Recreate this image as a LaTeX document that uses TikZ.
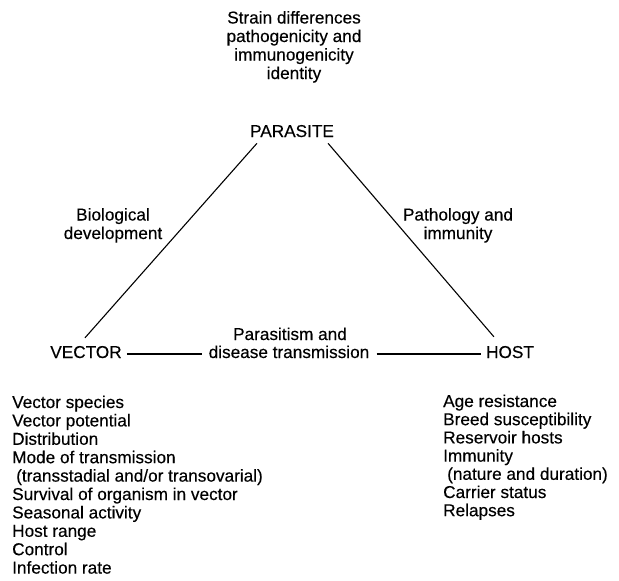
\documentclass[tikz,border=0pt]{standalone}
\usepackage{fontspec}
\setmainfont{Liberation Sans}[FakeBold=0.3]
\usetikzlibrary{positioning}

\begin{document}
\begin{tikzpicture}[x=1pt,y=-1pt,
  every node/.style={font=\fontsize{17.2}{18.5}\selectfont, inner sep=2pt},
  side/.style={line width=1.1pt}]

  \useasboundingbox (0,0) rectangle (619,581);

  % the three corners
  \node[anchor=base] (par) at (292,137) {PARASITE};
  \node[anchor=base] (vec) at (86,358) {VECTOR};
  \node[anchor=base] (host) at (510,358) {HOST};

  % what goes with each corner and side (base = last line)
  \node[anchor=base,align=center] (strain) at (294,79)
    {Strain differences\\pathogenicity and\\immunogenicity\\identity};
  \node[anchor=base,align=center] (bio) at (113,239) {Biological\\development};
  \node[anchor=base,align=center] (path) at (458,239) {Pathology and\\immunity};
  \node[anchor=base] (prst) at (290,340) {Parasitism and};
  \node[anchor=base] (dis) at (289,358) {disease transmission};

  % draw the sides of the triangle
  \draw[side] ([xshift=9pt,yshift=-4pt]par.south west) -- ([xshift=-1pt,yshift=6pt]vec.north);
  \draw[side] ([xshift=-8pt,yshift=-4pt]par.south east) -- ([xshift=10pt,yshift=7pt]host.north west);
  \draw[side] ([xshift=3pt,yshift=4pt]vec.base east) -- ([xshift=-5pt,yshift=4pt]dis.base west);
  \draw[side] ([xshift=5pt,yshift=4pt]dis.base east) -- ([xshift=-3pt,yshift=4pt]host.base west);

  % the lists under vector and host
  \def\vectorList{Vector species, Vector potential, Distribution,%
    Mode of transmission, {\hspace*{4pt}(transstadial and/or transovarial)},%
    Survival of organism in vector, Seasonal activity, Host range,%
    Control, Infection rate}
  \def\hostList{Age resistance, Breed susceptibility, Reservoir hosts,%
    Immunity, {\hspace*{4pt}(nature and duration)}, Carrier status, Relapses}

  \foreach \t [count=\i] in \vectorList
    \node[anchor=base west] (v\i) at (10,{408+18.4*(\i-1)}) {\t};
  \foreach \t [count=\i] in \hostList
    \node[anchor=base west] (h\i) at (441,{407+18.2*(\i-1)}) {\t};

\end{tikzpicture}
\end{document}
